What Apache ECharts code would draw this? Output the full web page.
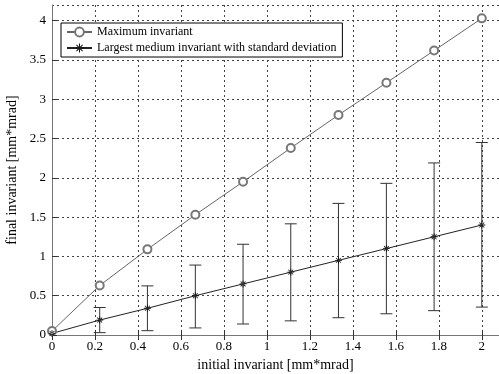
<!DOCTYPE html>
<head>
    <meta charset="UTF-8">
    <title>invariant</title>
    <script src="https://cdn.jsdelivr.net/npm/echarts@6/dist/echarts.min.js"></script>
    <style>
        body { margin: 0; background: #fff; }
        #main { width: 499px; height: 374px; }
    </style>
</head>
<body>
<div id="main"></div>
<script type="text/javascript">
    // initial invariant values
    var xs = [0, 0.222, 0.444, 0.667, 0.889, 1.111, 1.333, 1.556, 1.778, 2.0];
    // maximum invariant
    var maxInv = [0.05, 0.63, 1.09, 1.53, 1.95, 2.38, 2.80, 3.21, 3.62, 4.03];
    // largest medium invariant and its std band
    var medInv = [0.02, 0.19, 0.34, 0.50, 0.65, 0.80, 0.95, 1.10, 1.25, 1.40];
    var medLow = [0.02, 0.03, 0.055, 0.09, 0.14, 0.18, 0.22, 0.27, 0.31, 0.355];
    var medHigh = [0.02, 0.35, 0.625, 0.89, 1.155, 1.415, 1.675, 1.93, 2.19, 2.45];

    var serif = 'Liberation Serif';

    function pairs(a, b) {
        var out = [];
        for (var i = 0; i < a.length; i++) out.push([a[i], b[i]]);
        return out;
    }
    var errData = [];
    for (var i = 1; i < xs.length; i++) errData.push([xs[i], medLow[i], medHigh[i]]);

    var starPath = 'path://M-0.6,-5 L0.6,-5 L0.6,5 L-0.6,5 Z M-5,-0.6 L5,-0.6 L5,0.6 L-5,0.6 Z ' +
        'M-3.9,-3.1 L3.1,3.9 L3.9,3.1 L-3.1,-3.9 Z M3.1,-3.9 L-3.9,3.1 L-3.1,3.9 L3.9,-3.1 Z';

    var myChart = echarts.init(document.getElementById('main'));
    var option = {
        animation: false,
        backgroundColor: '#fff',
        grid: { left: 52, top: 5, right: 0, bottom: 39, outerBoundsMode: 'none', containLabel: false },
        legend: {
            data: ['Maximum invariant', 'Largest medium invariant with standard deviation'],
            orient: 'vertical',
            left: 61,
            top: 23,
            padding: [3, 6, 3, 5],
            itemGap: 4,
            itemWidth: 25,
            itemHeight: 11,
            borderColor: '#000',
            borderWidth: 1,
            backgroundColor: '#fff',
            textStyle: { fontFamily: serif, fontSize: 12, color: '#000' }
        },
        xAxis: [{
            type: 'value',
            min: 0,
            max: 2.08,
            interval: 0.2,
            name: 'initial invariant [mm*mrad]',
            nameLocation: 'middle',
            nameGap: 22,
            nameTextStyle: { fontFamily: serif, fontSize: 14, color: '#000' },
            axisLine: { onZero: false, lineStyle: { color: '#777' } },
            axisTick: { inside: true, length: 5, lineStyle: { color: '#333' } },
            axisLabel: { showMaxLabel: false, margin: 5, fontFamily: serif, fontSize: 13, color: '#000' },
            splitLine: { show: true, lineStyle: { type: [2, 3], color: '#444' } }
        }, {
            type: 'value',
            position: 'top',
            min: 0,
            max: 2.08,
            interval: 0.2,
            axisLine: { lineStyle: { color: '#777' } },
            axisTick: { inside: true, length: 5, lineStyle: { color: '#333' } },
            axisLabel: { show: false },
            splitLine: { show: false }
        }],
        yAxis: {
            type: 'value',
            min: 0,
            max: 4.2,
            interval: 0.5,
            name: 'final invariant [mm*mrad]',
            nameLocation: 'middle',
            nameGap: 33,
            nameTextStyle: { fontFamily: serif, fontSize: 14, color: '#000' },
            axisLine: { show: true, onZero: false, lineStyle: { color: '#777' } },
            axisTick: { show: true, inside: true, length: 5, lineStyle: { color: '#333' } },
            axisLabel: { showMaxLabel: false, margin: 6, fontFamily: serif, fontSize: 13, color: '#000' },
            splitLine: { show: true, lineStyle: { type: [2, 3], color: '#444' } }
        },
        series: [
            {
                name: 'Maximum invariant',
                type: 'line',
                data: pairs(xs, maxInv),
                symbol: 'emptyCircle',
                symbolSize: 8,
                lineStyle: { color: '#666', width: 1 },
                itemStyle: { color: '#777', borderWidth: 1 }
            },
            {
                name: 'Largest medium invariant with standard deviation',
                type: 'line',
                data: pairs(xs, medInv),
                symbol: starPath,
                symbolSize: 7,
                z: 3,
                lineStyle: { color: '#222', width: 1 },
                itemStyle: { color: '#111' }
            },
            {
                name: 'std',
                type: 'custom',
                data: errData,
                z: 1,
                renderItem: function (params, api) {
                    var top = api.coord([api.value(0), api.value(2)]);
                    var bot = api.coord([api.value(0), api.value(1)]);
                    var w = 6;
                    var st = { stroke: '#333', lineWidth: 1 };
                    return {
                        type: 'group',
                        children: [
                            { type: 'line', shape: { x1: top[0], y1: top[1], x2: bot[0], y2: bot[1] }, style: st },
                            { type: 'line', shape: { x1: top[0] - w, y1: top[1], x2: top[0] + w, y2: top[1] }, style: st },
                            { type: 'line', shape: { x1: bot[0] - w, y1: bot[1], x2: bot[0] + w, y2: bot[1] }, style: st }
                        ]
                    };
                }
            }
        ]
    };
    myChart.setOption(option);
</script>
</body>
</html>
